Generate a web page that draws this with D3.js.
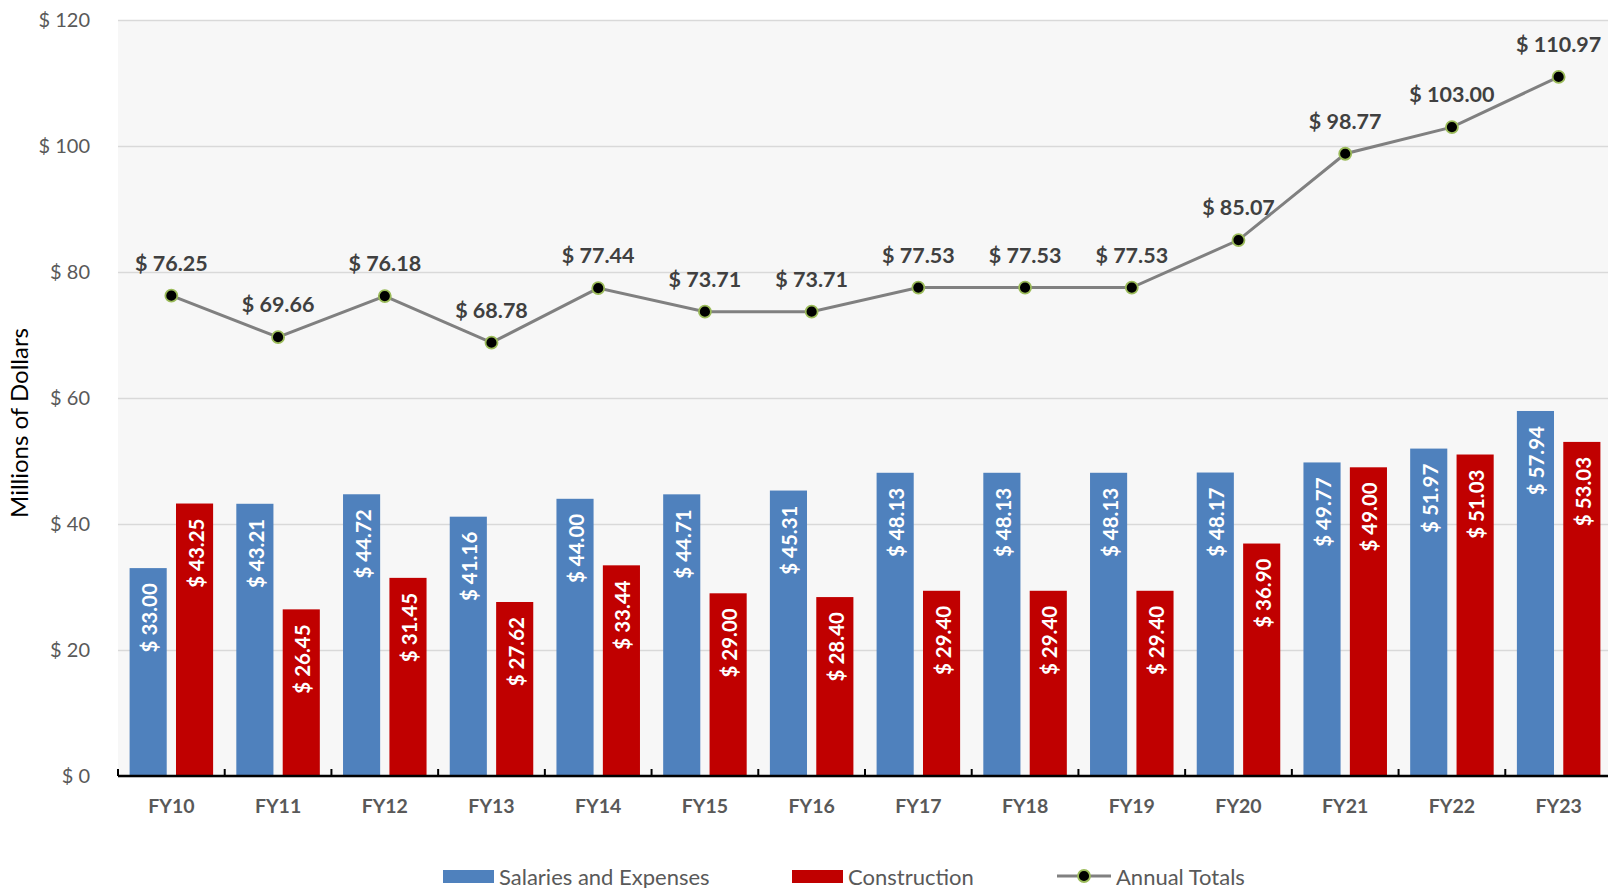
<!DOCTYPE html>
<html>
<head>
<meta charset="utf-8">
<script src="https://cdn.jsdelivr.net/npm/d3@7"></script>
<style>
  body { margin: 0; background: #fff; }
  svg { display: block; font-family: Lato, "Open Sans", sans-serif; }
</style>
</head>
<body>
<div id="chart"></div>
<script>
// chart data
var years = ['FY10','FY11','FY12','FY13','FY14','FY15','FY16','FY17','FY18','FY19','FY20','FY21','FY22','FY23'];
var salaries = [33.00, 43.21, 44.72, 41.16, 44.00, 44.71, 45.31, 48.13, 48.13, 48.13, 48.17, 49.77, 51.97, 57.94];
var construction = [43.25, 26.45, 31.45, 27.62, 33.44, 29.00, 28.40, 29.40, 29.40, 29.40, 36.90, 49.00, 51.03, 53.03];
var totals = [76.25, 69.66, 76.18, 68.78, 77.44, 73.71, 73.71, 77.53, 77.53, 77.53, 85.07, 98.77, 103.00, 110.97];
var yTicks = [0, 20, 40, 60, 80, 100, 120];
var seriesNames = ['Salaries and Expenses', 'Construction', 'Annual Totals'];

var width = 1608, height = 888;
var plot = {left: 118, right: 1612, top: 20, bottom: 776};

var blue = '#4F81BD', red = '#C00000';

var svg = d3.select('#chart').append('svg')
  .attr('width', width)
  .attr('height', height);

var x = d3.scaleBand()
  .domain(years)
  .range([plot.left, plot.right]);

var y = d3.scaleLinear()
  .domain([0, 120])
  .range([plot.bottom, plot.top]);

// inner band for the two bars of each year
var inner = d3.scaleBand()
  .domain(['s', 'c'])
  .range([0, x.bandwidth()])
  .paddingInner(0.2)
  .paddingOuter(0.25);

function money(v) { return '$ ' + d3.format('.2f')(v); }

//plot background
svg.append('rect')
  .attr('x', plot.left)
  .attr('y', plot.top)
  .attr('width', plot.right - plot.left)
  .attr('height', plot.bottom - plot.top)
  .attr('fill', '#F7F7F7');

//gridlines + y labels
var yAxis = svg.append('g')
  .attr('transform', 'translate(' + plot.left + ',0)')
  .call(d3.axisLeft(y).tickValues(yTicks).tickSize(-(plot.right - plot.left)).tickPadding(28)
    .tickFormat(function (d) { return '$ ' + d; }));
yAxis.select('.domain').remove();
yAxis.selectAll('.tick line').attr('stroke', '#D9D9D9').attr('stroke-width', 1.3);
yAxis.selectAll('.tick text')
  .attr('fill', '#595959')
  .style('font-size', '20px')
  .style('font-family', 'Lato, sans-serif');

//y title
svg.append('text')
  .attr('transform', 'translate(28,' + ((plot.top + plot.bottom) / 2 + 25) + ') rotate(-90)')
  .attr('text-anchor', 'middle')
  .attr('fill', '#000')
  .style('font-size', '24px')
  .text('Millions of Dollars');

//bars
var groups = svg.selectAll('g.year')
  .data(years)
  .enter().append('g')
  .attr('class', 'year')
  .attr('transform', function (d) { return 'translate(' + x(d) + ',0)'; });

function drawBars(key, values, color) {
  groups.append('rect')
    .attr('x', inner(key))
    .attr('y', function (d, i) { return y(values[i]); })
    .attr('width', inner.bandwidth())
    .attr('height', function (d, i) { return y(0) - y(values[i]); })
    .attr('fill', color);

  groups.append('text')
    .attr('transform', function (d, i) {
      var tx = inner(key) + inner.bandwidth() / 2 + 1;
      var ty = y(values[i]) + 15;
      return 'translate(' + tx + ',' + ty + ') rotate(-90)';
    })
    .attr('text-anchor', 'end')
    .attr('dominant-baseline', 'central')
    .attr('fill', '#fff')
    .style('font-size', '20.5px')
    .style('font-weight', 'bold')
    .text(function (d, i) { return money(values[i]); });
}
drawBars('s', salaries, blue);
drawBars('c', construction, red);

//x axis line and ticks
var xAxis = svg.append('g')
  .attr('transform', 'translate(0,' + plot.bottom + ')');
xAxis.append('line')
  .attr('x1', plot.left).attr('x2', plot.right)
  .attr('stroke', '#000').attr('stroke-width', 2.5);
xAxis.selectAll('line.tick')
  .data(years)
  .enter().append('line')
  .attr('class', 'tick')
  .attr('x1', function (d) { return x(d); })
  .attr('x2', function (d) { return x(d); })
  .attr('y1', 0).attr('y2', -7)
  .attr('stroke', '#000').attr('stroke-width', 2);
xAxis.selectAll('text')
  .data(years)
  .enter().append('text')
  .attr('x', function (d) { return x(d) + x.bandwidth() / 2; })
  .attr('y', 37)
  .attr('text-anchor', 'middle')
  .attr('fill', '#595959')
  .style('font-size', '19.5px')
  .style('font-weight', 'bold')
  .text(function (d) { return d; });

//totals line
var cx = function (d, i) { return x(years[i]) + x.bandwidth() / 2; };
var line = d3.line()
  .x(cx)
  .y(function (d) { return y(d); });

svg.append('path')
  .datum(totals)
  .attr('d', line)
  .attr('fill', 'none')
  .attr('stroke', '#808080')
  .attr('stroke-width', 3);

svg.selectAll('circle.total')
  .data(totals)
  .enter().append('circle')
  .attr('class', 'total')
  .attr('cx', cx)
  .attr('cy', function (d) { return y(d); })
  .attr('r', 6)
  .attr('fill', '#000')
  .attr('stroke', '#9BBB59')
  .attr('stroke-width', 1.8);

svg.selectAll('text.total')
  .data(totals)
  .enter().append('text')
  .attr('class', 'total')
  .attr('x', cx)
  .attr('y', function (d) { return y(d) - 25; })
  .attr('text-anchor', 'middle')
  .attr('fill', '#404040')
  .style('font-size', '21.5px')
  .style('font-weight', 'bold')
  .text(money);

//legend
var legend = svg.append('g').attr('transform', 'translate(0,876)');
var legendItems = [
  {name: seriesNames[0], type: 'rect', color: blue, x: 443},
  {name: seriesNames[1], type: 'rect', color: red, x: 792},
  {name: seriesNames[2], type: 'line', color: '#808080', x: 1057}
];
legendItems.forEach(function (item) {
  if (item.type === 'rect') {
    legend.append('rect')
      .attr('x', item.x).attr('y', -6)
      .attr('width', 51).attr('height', 13)
      .attr('fill', item.color);
  } else {
    legend.append('line')
      .attr('x1', item.x).attr('x2', item.x + 54)
      .attr('stroke', item.color).attr('stroke-width', 3);
    legend.append('circle')
      .attr('cx', item.x + 27).attr('r', 6)
      .attr('fill', '#000').attr('stroke', '#9BBB59').attr('stroke-width', 1.8);
  }
  legend.append('text')
    .attr('x', item.x + (item.type === 'rect' ? 56 : 59))
    .attr('dominant-baseline', 'central')
    .attr('fill', '#595959')
    .style('font-size', '22px')
    .text(item.name);
});
</script>
</body>
</html>
